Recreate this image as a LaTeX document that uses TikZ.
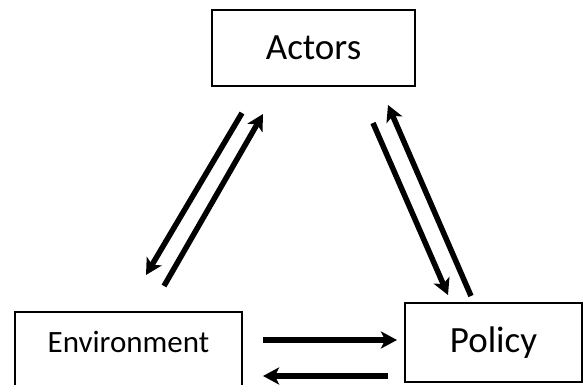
\documentclass[tikz,border=0pt]{standalone}
\usepackage{fontspec}
\setmainfont{Carlito}
\usetikzlibrary{arrows.meta,positioning}

\begin{document}
\begin{tikzpicture}[x=1pt, y=1pt,
  box/.style={draw, rectangle, line width=1.8pt, inner sep=0pt, outer sep=0pt},
  arr/.style={line width=5.5pt, -{Stealth[length=16pt,width=17pt,inset=4pt]}}]
\useasboundingbox (0,0) rectangle (584,385);
\node[box, minimum width=203pt, minimum height=76pt, font=\fontsize{37}{42}\selectfont] (actors) at (313.5,337) {Actors};
\node[box, minimum width=227pt, minimum height=78pt, text depth=18pt, font=\fontsize{31}{36}\selectfont] (env) at (128.5,34) {Environment};
\node[box, minimum width=177pt, minimum height=79pt, font=\fontsize{37}{42}\selectfont] (policy) at (493.5,42.5) {Policy};

\draw[arr] ([shift={(30,-27)}]actors.south west) -- ([shift={(17.5,37)}]env.north);
\draw[arr] ([shift={(35.5,26)}]env.north) -- ([shift={(51,-28)}]actors.south west);
\draw[arr] ([shift={(-42,-37)}]actors.south east) -- ([shift={(-45.5,8)}]policy.north);
\draw[arr] ([shift={(-22.5,7)}]policy.north) -- ([shift={(-27,-19)}]actors.south east);
\draw[arr] ([shift={(21,11)}]env.east) -- ([shift={(-8,2.5)}]policy.west);
\draw[arr] ([shift={(-17,-33.5)}]policy.west) -- ([shift={(21,-25)}]env.east);
\end{tikzpicture}
\end{document}
